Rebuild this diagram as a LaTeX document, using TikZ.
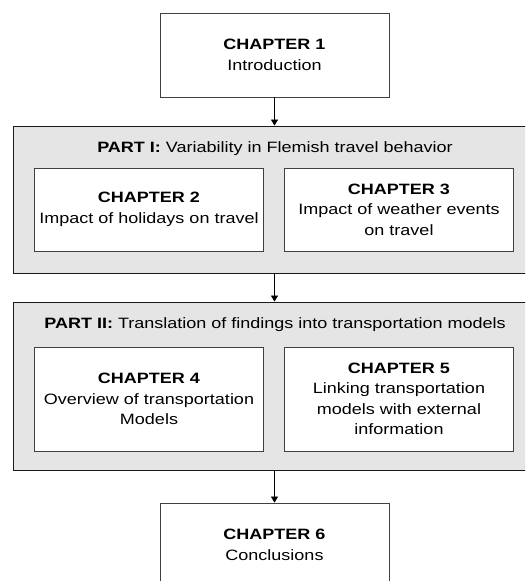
\documentclass[tikz,border=0pt]{standalone}
\usepackage{fontspec}
\setmainfont{Liberation Sans}[FakeStretch=1.2]
\usetikzlibrary{arrows.meta}

\begin{document}
\begin{tikzpicture}[
    x=1pt, y=-1pt,
    font=\fontsize{15}{20.5}\selectfont,
    part/.style={draw=black!90, line width=0.9pt, fill=black!10,
      minimum width=523pt},
    phead/.style={anchor=base, inner sep=0pt},
    chap/.style={draw=black!75, line width=0.8pt, fill=white, align=center,
      minimum width=229pt, inner sep=2pt},
    chtop/.style={chap, minimum height=84pt},
    arrow/.style={-{Triangle[length=6pt,width=7pt]}, line width=0.7pt, black}
  ]
  \clip (0,0) rectangle (525,581);
  %---- CHAPTER 1 ----
  \node[chtop] (ch1) at (274.5,55) {\textbf{CHAPTER 1}\\Introduction};
  %---- PART I ----
  \node[part, minimum height=147pt] (P1) at (274.5,199.5) {};
  \node[phead] (p1head) at (275,152) {\textbf{PART I:} Variability in Flemish travel behavior};
  \node[chap, minimum height=83pt] (ch2) at (149,209.5)
    {\textbf{CHAPTER 2}\\Impact of holidays on travel};
  \node[chap, minimum height=83pt] (ch3) at (399,209.5)
    {\textbf{CHAPTER 3}\\Impact of weather events\\on travel};
  %---- PART II ----
  \node[part, minimum height=168pt] (P2) at (274.5,386) {};
  \node[phead] (p2head) at (275,328) {\textbf{PART II:} Translation of findings into transportation models};
  \node[chap, minimum height=104pt] (ch4) at (149,399)
    {\textbf{CHAPTER 4}\\Overview of transportation\\Models};
  \node[chap, minimum height=104pt] (ch5) at (399,399)
    {\textbf{CHAPTER 5}\\Linking transportation\\models with external\\information};
  %---- CHAPTER 6 ----
  \node[chtop] (ch6) at (274.5,545) {\textbf{CHAPTER 6}\\Conclusions};
  \draw[arrow] (ch1) -- (P1);
  \draw[arrow] (P1)  -- (P2);
  \draw[arrow] (P2)  -- (ch6);
\end{tikzpicture}
\end{document}
